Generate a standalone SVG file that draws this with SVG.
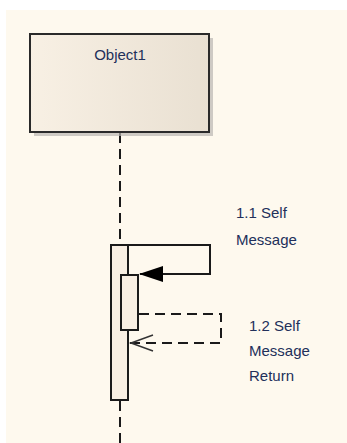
<svg xmlns="http://www.w3.org/2000/svg" width="347" height="443" viewBox="0 0 347 443">
<style>
.lbl{font-family:"Liberation Sans",Arial,sans-serif;font-size:15px;fill:#22305a}
.act{fill:#f8efe3;stroke:#1a1a1a;stroke-width:2}
.msg{fill:none;stroke:#1a1a1a;stroke-width:2}
.dash{stroke-dasharray:10,6}
</style>
<defs>
<linearGradient id="g" x1="0" y1="0" x2="1" y2="0">
<stop offset="0" stop-color="#f8f0e4"/>
<stop offset="1" stop-color="#e9e0d2"/>
</linearGradient>
<marker id="fill" viewBox="0 0 24 16" refX="23" refY="8" markerWidth="24" markerHeight="16" markerUnits="userSpaceOnUse" orient="auto">
<path d="M0,0 L24,8 L0,16 z" fill="#000"/>
</marker>
</defs>
<rect x="0" y="0" width="347" height="443" fill="#fff"/>
<rect x="6" y="10" width="341" height="433" fill="#fef9ee"/>
<g id="connectors">
<line x1="120" y1="133" x2="120" y2="244" stroke="#1a1a1a" stroke-width="2" stroke-dasharray="10,6"/>
<line x1="120" y1="401" x2="120" y2="443" stroke="#1a1a1a" stroke-width="2" stroke-dasharray="10,6"/>
<path class="msg" d="M128,245 H210 V274 H140" marker-end="url(#fill)"/>
<path class="msg dash" d="M139,314 H221 V343 H130"/>
<path d="M153,335 L131,343 L153,351" fill="none" stroke="#333" stroke-width="1.5"/>
</g>
<g id="object1">
<rect x="34" y="38" width="179" height="98" fill="#b9b6b2" opacity="0.7"/>
<rect x="30" y="34" width="179" height="98" fill="url(#g)" stroke="#2a2a2a" stroke-width="2"/>
<text class="lbl" x="120" y="60" text-anchor="middle">Object1</text>
</g>
<g id="activation1">
<rect class="act" x="111" y="245" width="17" height="155"/>
</g>
<g id="activation2">
<rect class="act" x="121" y="275" width="17" height="55"/>
</g>
<g id="label1">
<text class="lbl" x="236" y="218">1.1 Self</text>
<text class="lbl" x="236" y="245">Message</text>
</g>
<g id="label2">
<text class="lbl" x="249" y="331">1.2 Self</text>
<text class="lbl" x="249" y="356">Message</text>
<text class="lbl" x="249" y="381">Return</text>
</g>
</svg>
